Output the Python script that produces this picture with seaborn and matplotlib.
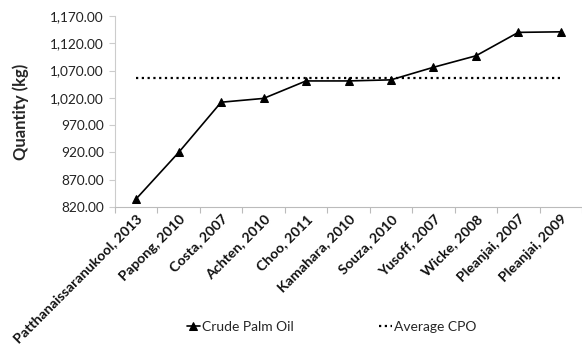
import matplotlib
matplotlib.use("Agg")
import matplotlib.pyplot as plt
import seaborn as sns
import pandas as pd
import numpy as np

# Published estimates of crude palm oil quantity
studies = ["Patthanaissaranukool, 2013", "Papong, 2010", "Costa, 2007",
           "Achten, 2010", "Choo, 2011", "Kamahara, 2010", "Souza, 2010",
           "Yusoff, 2007", "Wicke, 2008", "Pleanjai, 2007", "Pleanjai, 2009"]
cpo_kg = [835, 920, 1012, 1019, 1051, 1051, 1053, 1076, 1097, 1140, 1141]
avg_cpo = 1056
y_ticks = [820, 870, 920, 970, 1020, 1070, 1120, 1170]

sns.set_theme(style="white")
plt.rcParams["font.family"] = ["Lato", "DejaVu Sans"]

df = pd.DataFrame({"pos": np.arange(len(studies)), "qty": cpo_kg,
                   "avg": [avg_cpo] * len(studies)})

fig = plt.figure(figsize=(5.82, 3.5), dpi=100)
ax = fig.add_axes([115 / 582, 1 - 207 / 350, 467 / 582, 191 / 350])

sns.lineplot(data=df, x="pos", y="qty", ax=ax, color="black", linewidth=1.2,
             marker="^", markersize=5.5, markeredgecolor="black",
             label="Crude Palm Oil")
sns.lineplot(data=df, x="pos", y="avg", ax=ax, color="black", linewidth=1.6,
             linestyle=(0, (1, 1.6)), label="Average CPO")

ax.set_xlim(-0.5, len(studies) - 0.5)
ax.set_ylim(y_ticks[0], y_ticks[-1])
ax.set_yticks(y_ticks)
ax.set_yticklabels([f"{v:,.2f}" for v in y_ticks], fontsize=9.8, color="#222222")
ax.tick_params(axis="y", length=4, width=0.8, color="#cccccc", pad=4,
               left=True, direction="out")

ax.set_xticks(np.arange(len(studies)))
ax.set_xticklabels(studies, rotation=45, ha="right", rotation_mode="anchor",
                   fontsize=10.2, fontweight="bold", color="#111111")
ax.tick_params(axis="x", which="major", length=0, pad=4)
ax.set_xticks(np.arange(len(studies) + 1) - 0.5, minor=True)
ax.tick_params(axis="x", which="minor", length=4, color="#bbbbbb", width=0.8,
               direction="out", bottom=True)

ax.set_xlabel("")
ax.set_ylabel("Quantity (kg)", fontsize=12, fontweight="bold", labelpad=15)

for side in ["top", "right"]:
    ax.spines[side].set_visible(False)
ax.spines["left"].set_color("#cccccc")
ax.spines["bottom"].set_color("#bbbbbb")
ax.spines["left"].set_linewidth(0.8)
ax.spines["bottom"].set_linewidth(0.8)

handles, labels = ax.get_legend_handles_labels()
ax.get_legend().remove()
fig.legend(handles, labels, loc="center", bbox_to_anchor=(0.57, 0.066),
           ncol=2, frameon=False, fontsize=10, handlelength=0.9,
           handletextpad=0.15, columnspacing=6.2)

fig.savefig("out.png", dpi=100)
